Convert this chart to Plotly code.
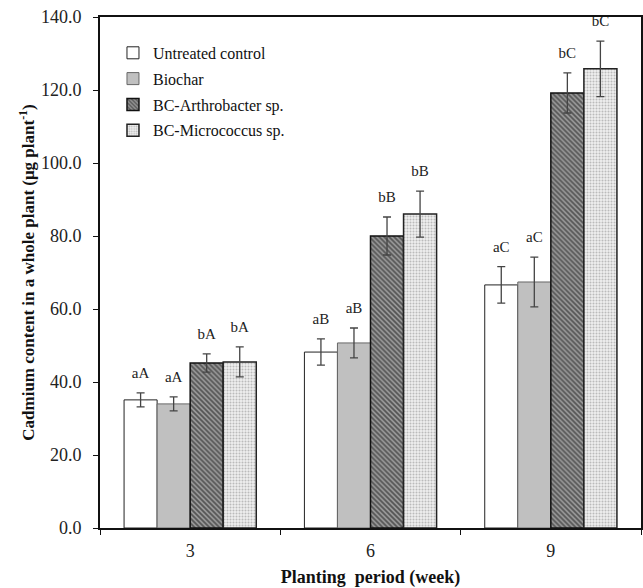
import plotly.graph_objects as go

weeks = ["3", "6", "9"]
series_names = ["Untreated control", "Biochar", "BC-Arthrobacter sp.", "BC-Micrococcus sp."]
untreated = [35.1, 48.2, 66.6]
biochar = [34.0, 50.7, 67.4]
arthro = [45.2, 80.0, 119.2]
micro = [45.5, 86.0, 125.8]
untreated_err = [1.9, 3.6, 5.0]
biochar_err = [1.9, 4.1, 6.8]
arthro_err = [2.5, 5.2, 5.5]
micro_err = [4.1, 6.3, 7.6]
untreated_lab = ["aA", "aB", "aC"]
biochar_lab = ["aA", "aB", "aC"]
arthro_lab = ["bA", "bB", "bC"]
micro_lab = ["bA", "bB", "bC"]

values = [untreated, biochar, arthro, micro]
errors = [untreated_err, biochar_err, arthro_err, micro_err]
labels = [untreated_lab, biochar_lab, arthro_lab, micro_lab]

styles = [
    dict(color="white", line=dict(color="#222", width=1)),
    dict(color="#c0c0c0", line=dict(color="#666", width=1)),
    dict(color="#888", line=dict(color="#111", width=1.5),
         pattern=dict(shape="\\", fgcolor="#111", bgcolor="#999", size=3.5, solidity=0.5)),
    dict(color="#ddd", line=dict(color="#222", width=1.5),
         pattern=dict(shape=".", fgcolor="#888", bgcolor="#eee", size=3, solidity=0.35)),
]

FONT = "Liberation Serif, Times New Roman, serif"
fig = go.Figure()
for i in range(4):
    fig.add_trace(go.Bar(
        x=weeks, y=values[i], name=series_names[i], offsetgroup=str(i),
        legendgroup=str(i),
        marker=styles[i],
        error_y=dict(type="data", array=errors[i], color="#444", thickness=1.3, width=4),
    ))
for i in range(4):
    fig.add_trace(go.Scatter(
        x=weeks, y=[v + e for v, e in zip(values[i], errors[i])], mode="markers+text",
        text=labels[i], textposition="top center", offsetgroup=str(i),
        marker=dict(size=16, color="rgba(0,0,0,0)"), cliponaxis=False,
        textfont=dict(family=FONT, size=15, color="#222"),
        showlegend=False, hoverinfo="skip",
    ))

fig.update_layout(
    width=643, height=588,
    margin=dict(l=100, r=2, t=17, b=60),
    plot_bgcolor="white", paper_bgcolor="white",
    barmode="group", bargap=0.267, bargroupgap=0,
    scattermode="group", scattergap=0.267,
    font=dict(family=FONT, size=16, color="#222"),
    legend=dict(x=0.024, y=0.963, xanchor="left", yanchor="top",
                font=dict(family=FONT, size=16, color="#111"),
                bgcolor="rgba(0,0,0,0)", traceorder="grouped", tracegroupgap=2, itemwidth=30),
    showlegend=True,
)
fig.update_xaxes(
    type="category", automargin=False, showline=True, linecolor="#111", linewidth=2, mirror=True,
    ticks="outside", tickson="boundaries", ticklen=5, tickcolor="#111", ticklabelstandoff=5,
    tickfont=dict(family=FONT, size=18, color="#222"),
    title=dict(text="<b>Planting  period (week)</b>", font=dict(family=FONT, size=18, color="#111"), standoff=15),
)
fig.update_yaxes(
    range=[0, 140], dtick=20, tickformat=".1f", showgrid=False, zeroline=False, automargin=False,
    showline=True, linecolor="#111", linewidth=2, mirror=True,
    ticks="outside", ticklen=5, tickcolor="#111", ticklabelstandoff=8,
    tickfont=dict(family=FONT, size=18, color="#222"),
    title=dict(text="<b>Cadmium content in a whole plant (μg plant<sup>-1</sup>)</b>",
               font=dict(family=FONT, size=17, color="#111"), standoff=2),
)
fig.write_html("out.html", config={"displayModeBar": False},
               post_script="document.body.style.margin='0';document.body.style.overflow='hidden';")
